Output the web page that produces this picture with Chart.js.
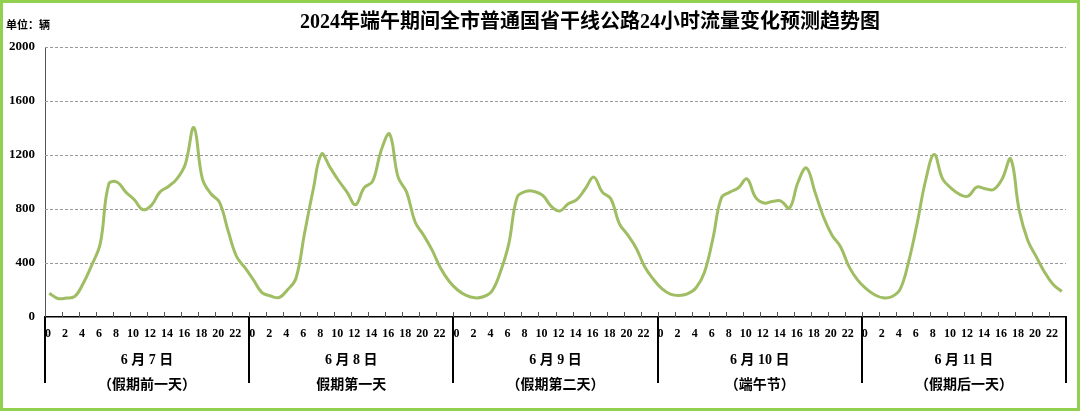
<!DOCTYPE html>
<html>
<head>
<meta charset="utf-8">
<script src="https://cdn.jsdelivr.net/npm/chart.js@4.4.1/dist/chart.umd.min.js"></script>
<style>
  html, body { margin: 0; padding: 0; background: #fff; }
  #wrap { width: 1080px; height: 411px; position: relative; }
</style>
</head>
<body>
<div id="wrap"><canvas id="c" width="1080" height="411"></canvas></div>
<script>
// ---- data ----
const chartTitle = '2024年端午期间全市普通国省干线公路24小时流量变化预测趋势图';
const unitLabel = '单位：辆';
const hours = [0,1,2,3,4,5,6,7,8,9,10,11,12,13,14,15,16,17,18,19,20,21,22,23];
const dayLabels = ['6 月 7 日', '6 月 8 日', '6 月 9 日', '6 月 10 日', '6 月 11 日'];
const daySubLabels = ['（假期前一天）', '假期第一天', '（假期第二天）', '（端午节）', '（假期后一天）'];
const yTicks = [0, 400, 800, 1200, 1600, 2000];
const hourTickLabels = [0,2,4,6,8,10,12,14,16,18,20,22];

const jun7  = [176,137,140,152,250,385,545,986,998,925,869,795,827,925,967,1023,1134,1403,1023,913,851,643,450,365];
const jun8  = [275,181,156,144,201,287,618,937,1207,1108,1011,925,832,957,1004,1232,1355,1036,925,704,606,495,361,265];
const jun9  = [200,160,142,150,190,330,540,888,930,930,901,820,785,839,869,950,1036,925,876,692,606,508,370,280];
const jun10 = [210,170,160,172,215,330,581,883,925,957,1023,888,844,856,859,807,998,1104,925,741,606,520,373,275];
const jun11 = [210,165,142,150,205,409,692,1011,1203,1023,954,908,895,962,950,945,1023,1171,790,569,447,330,240,189];
const days = [jun7, jun8, jun9, jun10, jun11];

// build points: each hour value is placed at the centre of its hour slot
const points = [];
days.forEach((vals, d) => {
  hours.forEach((h, i) => points.push({ x: d * 24 + h + 0.5, y: vals[i] }));
});

const SERIF = '"Liberation Serif", "Times New Roman", "Noto Sans CJK SC", serif';
const TOTAL_H = days.length * 24;

const decor = {
  id: 'decor',
  beforeDatasetsDraw(chart) {
    const { ctx, chartArea: a, scales: { y } } = chart;
    ctx.save();
    ctx.strokeStyle = '#999';
    ctx.lineWidth = 1;
    ctx.setLineDash([3, 2]);
    yTicks.forEach(v => {
      if (v === 0) return;
      const py = Math.round(y.getPixelForValue(v)) + 0.5;
      ctx.beginPath(); ctx.moveTo(a.left, py); ctx.lineTo(a.right, py); ctx.stroke();
    });
    ctx.restore();
  },
  afterDraw(chart) {
    const { ctx, chartArea: a, scales: { x } } = chart;
    ctx.save();
    // inward minor ticks every 2 hours
    ctx.strokeStyle = '#555';
    ctx.lineWidth = 1;
    for (let d = 0; d < days.length; d++) {
      hourTickLabels.forEach(h => {
        const px = Math.round(x.getPixelForValue(d * 24 + h)) + 0.5;
        ctx.beginPath(); ctx.moveTo(px, a.bottom - 5); ctx.lineTo(px, a.bottom); ctx.stroke();
      });
    }
    // day separators
    ctx.strokeStyle = '#000';
    ctx.lineWidth = 2;
    for (let d = 0; d <= days.length; d++) {
      const px = Math.round(x.getPixelForValue(d * 24));
      ctx.beginPath(); ctx.moveTo(px, a.bottom); ctx.lineTo(px, a.bottom + 66); ctx.stroke();
    }
    // day labels
    ctx.fillStyle = '#000';
    ctx.textAlign = 'center';
    ctx.textBaseline = 'middle';
    dayLabels.forEach((lab, d) => {
      const cx = x.getPixelForValue(d * 24 + 12);
      ctx.font = 'bold 14px ' + SERIF;
      ctx.fillText(lab, cx, a.bottom + 43);
      ctx.fillText(daySubLabels[d], cx, a.bottom + 68);
    });
    // title
    ctx.font = 'bold 20px ' + SERIF;
    ctx.textAlign = 'center';
    ctx.fillText(chartTitle, 590, 23);
    // unit
    ctx.font = 'bold 11px ' + SERIF;
    ctx.textAlign = 'left';
    ctx.fillText(unitLabel, 6, 26);
    // outer green border
    ctx.strokeStyle = '#92d050';
    ctx.lineWidth = 3;
    ctx.strokeRect(1.5, 1.5, chart.width - 3, chart.height - 3);
    ctx.restore();
  }
};

new Chart(document.getElementById('c'), {
  type: 'line',
  data: {
    datasets: [{
      data: points,
      borderColor: '#9fbd62',
      borderWidth: 3,
      pointRadius: 0,
      tension: 0.4,
      fill: false
    }]
  },
  options: {
    responsive: false,
    animation: false,
    devicePixelRatio: 1,
    layout: { padding: { left: 3, top: 47, right: 14, bottom: 0 } },
    plugins: { legend: { display: false }, title: { display: false }, tooltip: { enabled: false } },
    scales: {
      x: {
        type: 'linear',
        min: 0,
        max: TOTAL_H,
        afterFit(s) { s.height = 94; },
        afterBuildTicks(s) {
          const t = [];
          for (let d = 0; d < days.length; d++) hourTickLabels.forEach(h => t.push({ value: d * 24 + h }));
          t.push({ value: TOTAL_H });
          s.ticks = t;
        },
        ticks: {
          autoSkip: false,
          maxRotation: 0,
          padding: 10,
          labelOffset: 3,
          color: '#000',
          font: { family: SERIF, size: 12, weight: 'bold' },
          callback: v => (v >= TOTAL_H ? '' : String(v % 24))
        },
        grid: { display: false, drawTicks: false },
        border: { display: true, color: '#000', width: 1.5 }
      },
      y: {
        min: 0,
        max: 2000,
        afterFit(s) { s.width = 42; },
        afterBuildTicks(s) { s.ticks = yTicks.map(v => ({ value: v })); },
        ticks: {
          padding: 10,
          color: '#000',
          font: { family: SERIF, size: 13, weight: 'bold' },
          callback: v => String(v)
        },
        grid: { display: false, drawTicks: false },
        border: { display: true, color: '#555', width: 1 }
      }
    }
  },
  plugins: [decor]
});
</script>
</body>
</html>
